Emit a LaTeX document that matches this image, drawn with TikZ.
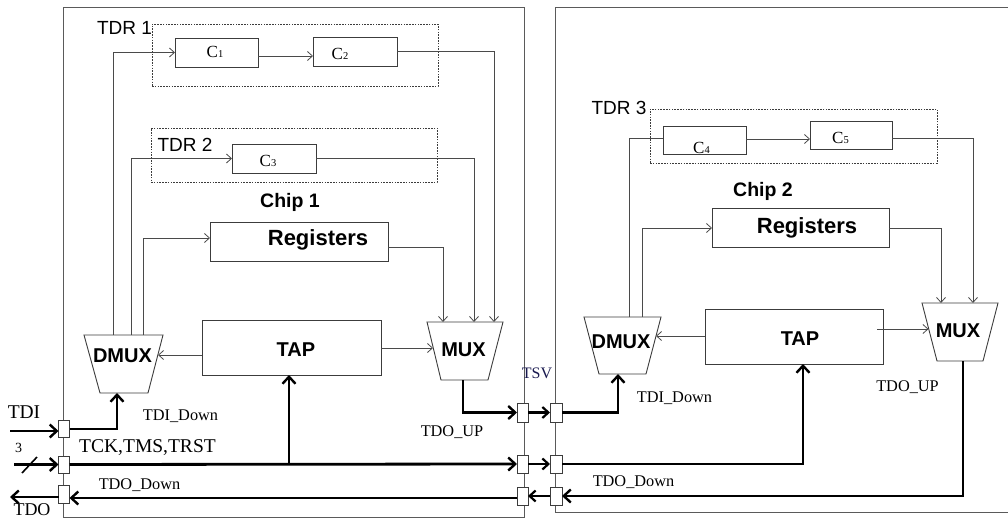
\documentclass[tikz,border=0pt]{standalone}
\usepackage{fontspec}
\setmainfont{Liberation Serif}
\newfontfamily\arialf{Liberation Sans}
\usetikzlibrary{arrows.meta}
\definecolor{boxc}{HTML}{3C3C3C}
\definecolor{linec}{HTML}{4A4A4A}
\definecolor{chipc}{HTML}{5A5A5A}
\definecolor{tsvc}{HTML}{1A1A50}
\newcommand\fsz[1]{\fontsize{#1}{#1}\selectfont}
\newcommand\cname[1]{\fsz{17}C{\fsz{10.5}#1}}
\begin{document}
\begin{tikzpicture}[x=1pt,y=-1pt,
  box/.style={draw=boxc, line width=0.9pt, fill=white, inner sep=0pt, outer sep=0pt},
  dbox/.style={draw=boxc, line width=0.7pt, dash pattern=on 1.6pt off 1.2pt, inner sep=0pt, outer sep=0pt},
  pad/.style={draw=boxc, line width=0.8pt, fill=white, minimum width=11pt, minimum height=18pt, inner sep=0pt, outer sep=0pt},
  chip/.style={draw=chipc, line width=0.9pt},
  wire/.style={draw=linec, line width=0.8pt},
  warr/.style={wire, -{Straight Barb[length=5pt,width=9pt,line width=0.8pt]}},
  bus/.style={draw=black, line width=2.8pt},
  barr/.style={bus, -{Straight Barb[length=7pt,width=13pt,line width=2.4pt]}},
  sarr/.style={bus, -{Straight Barb[length=6pt,width=11pt,line width=2.2pt]}},
  ctext/.style={inner sep=0pt},
  tdrlbl/.style={font=\arialf\fsz{19}, inner sep=0pt},
  chiplbl/.style={font=\arialf\bfseries\fsz{19.5}, inner sep=0pt},
  blk/.style={font=\arialf\bfseries\fsz{20}, inner sep=0pt},
  sig/.style={font=\fsz{19.5}, inner sep=0pt},
  sml/.style={font=\fsz{16.3}, inner sep=0pt}
]
\useasboundingbox (0,0) rectangle (1008,518);

% chip outlines
\draw[chip] (63,7) rectangle (524,517);
\draw[chip] (1010,7) -- (555,7) -- (555,512) -- (1010,512);

% ---------------- Chip 1 ----------------
\node[dbox, minimum width=286pt, minimum height=62pt] (tdr1) at (295,55) {};
\node[tdrlbl] (tdr1l) at (124.5,28) {TDR 1};
\node[box, minimum width=83pt, minimum height=29pt] (c1) at (216.5,52.5) {};
\node[ctext] (c1t) at (215,51.5) {\cname{1}};
\node[box, minimum width=84pt, minimum height=29pt] (c2) at (355,51.5) {};
\node[ctext] (c2t) at (340,54) {\cname{2}};

\node[dbox, minimum width=286pt, minimum height=54pt] (tdr2) at (294,155) {};
\node[tdrlbl] (tdr2l) at (185,145) {TDR 2};
\node[box, minimum width=84pt, minimum height=29pt] (c3) at (274,158.5) {};
\node[ctext] (c3t) at (268,161) {\cname{3}};

\node[chiplbl] (chip1) at (290,202) {Chip 1};
\node[box, minimum width=178pt, minimum height=39pt] (reg1) at (299,241.5) {};
\node[font=\arialf\bfseries\fsz{22}, inner sep=0pt] (reg1t) at (318,240) {Registers};

\node[box, minimum width=179pt, minimum height=55pt] (tap1) at (291.5,347.5) {};
\node[blk] (tap1t) at (296,350) {TAP};

\draw[box] (84,335) -- (163,335) -- (148,393) -- (100,393) -- cycle;
\node[blk] (dmux1) at (122.5,355.5) {DMUX};
\draw[box] (427,322) -- (503,322) -- (488,380) -- (441,380) -- cycle;
\node[blk] (mux1) at (463.5,349.5) {MUX};

\coordinate (d1a) at (113,335);
\coordinate (d1b) at (131,335);
\coordinate (d1c) at (143,335);
\coordinate (d1in) at (117,393);
\coordinate (d1r) at (158,355);
\coordinate (m1a) at (443,322);
\coordinate (m1b) at (474,322);
\coordinate (m1c) at (494,322);
\coordinate (m1l) at (433,348);
\coordinate (m1out) at (463,380);

\draw[warr] (d1a) |- (c1.west);
\draw[warr] (c1.east |- 0,56) -- (c2.west |- 0,56);
\draw[warr] (c2.east) -| (m1c);
\draw[warr] (d1b) |- (c3.west);
\draw[warr] (c3.east) -| (m1b);
\draw[warr] (d1c) |- (reg1.west |- 0,238);
\draw[warr] (reg1.east |- 0,247) -| (m1a);
\draw[warr] (tap1.west |- d1r) -- (d1r);
\draw[warr] (tap1.east |- m1l) -- (m1l);

% pads
\node[pad, minimum height=17pt] (p1a) at (64,429) {};
\node[pad, minimum height=17pt] (p1b) at (64,464.5) {};
\node[pad] (p1c) at (64,494) {};
\node[pad, minimum height=19pt] (q1a) at (522.5,412.5) {};
\node[pad] (q1b) at (522.5,464) {};
\node[pad] (q1c) at (522.5,496) {};
\node[pad, minimum width=12pt, minimum height=19pt] (r2a) at (556,412.5) {};
\node[pad, minimum width=12pt] (r2b) at (556,464) {};
\node[pad, minimum width=12pt] (r2c) at (556,496) {};

\coordinate (tdiin) at (10,431);
\coordinate (tckin) at (14,464.5);
\coordinate (tdoout) at (10,497);

\draw[barr] (tdiin) -- (tdiin -| p1a.west);
\draw[barr] (p1a.east) -| (d1in);
\draw[barr] (tckin) -- (p1b.west);
\draw[line width=1.6pt] (22,473) -- (37,457);
\draw[barr] (p1b.east) -- (q1b.west);
\draw[barr] (289,464) -- (289,375);
\draw[barr] (p1c.west |- tdoout) -- (tdoout);
\draw[barr] (q1c.west |- 0,498) -- (p1c.east |- 0,498);
\draw[barr] (m1out) |- (q1a.west);

\draw[sarr] (q1a.east) -- (r2a.west);
\draw[sarr] (q1b.east) -- (r2b.west);
\draw[sarr] (r2c.west) -- (q1c.east);

\node[sig] (tdil) at (24,412) {TDI};
\node[font=\fsz{14}, inner sep=0pt] (three) at (18.5,448) {3};
\node[sig] (tckl) at (147.5,448) {TCK,TMS,TRST};
\node[font=\fsz{18}, inner sep=0pt] (tdol) at (32,510) {TDO};
\node[sml] (tdid1) at (180.5,416) {TDI\_Down};
\node[sml] (tdou1) at (452,432) {TDO\_UP};
\node[sml] (tdod1) at (139.5,485) {TDO\_Down};
\node[font=\fsz{16}, inner sep=0pt, text=tsvc] (tsv) at (537,373) {TSV};

% ---------------- Chip 2 ----------------
\node[dbox, minimum width=287pt, minimum height=54pt] (tdr3) at (793.5,136) {};
\node[tdrlbl] (tdr3l) at (619,108) {TDR 3};
\node[box, minimum width=83pt, minimum height=28pt] (c4) at (704.5,140) {};
\node[ctext] (c4t) at (701.5,147.5) {\cname{4}};
\node[box, minimum width=82pt, minimum height=28pt] (c5) at (851,135) {};
\node[ctext] (c5t) at (840.5,137.5) {\cname{5}};

\node[chiplbl] (chip2) at (763,191) {Chip 2};
\node[box, minimum width=177pt, minimum height=39pt] (reg2) at (800.5,227.5) {};
\node[font=\arialf\bfseries\fsz{22}, inner sep=0pt] (reg2t) at (807,228) {Registers};

\node[box, minimum width=178pt, minimum height=55pt] (tap2) at (794,336.5) {};
\node[blk] (tap2t) at (800,339) {TAP};

\draw[box] (584,317) -- (661,317) -- (646,374) -- (599,374) -- cycle;
\node[blk] (dmux2) at (621,342) {DMUX};
\draw[box] (922,303) -- (998,303) -- (983,361) -- (937,361) -- cycle;
\node[blk] (mux2) at (958,331) {MUX};

\coordinate (d2a) at (629,317);
\coordinate (d2b) at (642,317);
\coordinate (d2in) at (618,374);
\coordinate (d2r) at (656,336);
\coordinate (m2a) at (941,303);
\coordinate (m2b) at (973,303);
\coordinate (m2l) at (928.5,329);
\coordinate (m2out) at (963,361);

\draw[wire] (d2a) |- (c4.west |- 0,138);
\draw[warr] (c4.east |- 0,139) -- (c5.west |- 0,139);
\draw[warr] (c5.east |- 0,138) -| (m2b);
\draw[warr] (d2b) |- (reg2.west |- 0,228);
\draw[warr] (reg2.east |- 0,228) -| (m2a);
\draw[warr] (tap2.west |- d2r) -- (d2r);
\draw[warr] (877,329) -- (m2l);

\draw[barr] (r2a.east) -| (d2in);
\draw[barr] (r2b.east) -| (tap2.south -| 803,0);
\draw[barr] (m2out) |- (r2c.east);

\node[sml] (tdid2) at (674.5,398) {TDI\_Down};
\node[sml] (tdou2) at (907.5,387) {TDO\_UP};
\node[sml] (tdod2) at (633.5,482) {TDO\_Down};
\end{tikzpicture}
\end{document}
